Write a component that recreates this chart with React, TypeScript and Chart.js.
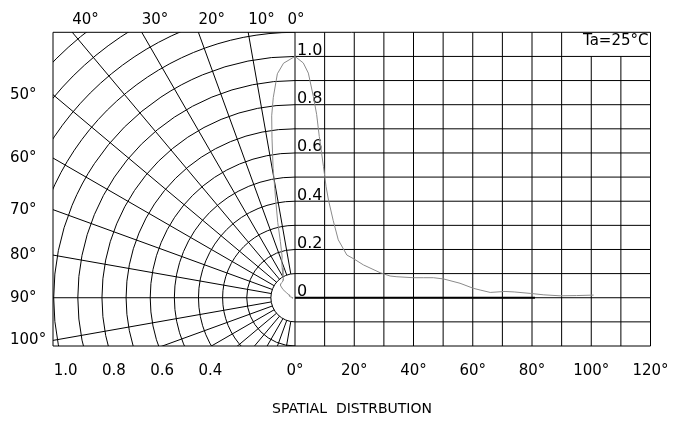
import React, { useEffect, useRef } from 'react';
import { Chart, registerables } from 'chart.js';

Chart.register(...registerables);

// ---- data ----
const angleDeg = [0, 2.8, 4.5, 6.2, 7.3, 8.2, 9.6, 10.5, 11.3, 12.9, 14.6, 17.5, 20, 23.1, 28.7, 32.1, 34.4, 40, 43.3, 46.7, 50.1, 55.7, 60.2, 62.5, 65.9, 70.9, 74, 79.4, 84, 89.5, 95, 100.8];
const intensity = [1.0, 0.973, 0.931, 0.834, 0.76, 0.668, 0.544, 0.46, 0.405, 0.32, 0.24, 0.177, 0.16, 0.136, 0.104, 0.09, 0.087, 0.083, 0.083, 0.083, 0.078, 0.06, 0.039, 0.032, 0.022, 0.026, 0.024, 0.018, 0.012, 0.008, 0.009, 0.011];
const baselineDeg = [0, 81];
const baselineVal = [0, 0];

const degTicks = [0, 20, 40, 60, 80, 100, 120];
const intensityTicks = [1.0, 0.8, 0.6, 0.4, 0.2, 0];
const radiusTicks = [1.0, 0.8, 0.6, 0.4];
const topAngleTicks = [0, 10, 20, 30, 40];
const leftAngleTicks = [50, 60, 70, 80, 90, 100];
const tempLabel = 'Ta=25°C';
const chartTitle = 'SPATIAL  DISTRBUTION';

// ---- layout ----
const W = 681;
const H = 421;
const AREA = { left: 53, top: 32.3, right: 650.5, bottom: 346 };
const ZERO_X = 295;
const Y_MIN = -0.2;
const Y_MAX = 1.1;
const X_MAX = 120;
const unitY = (AREA.bottom - AREA.top) / (Y_MAX - Y_MIN);
const XP_MIN = -(ZERO_X - AREA.left) / unitY;
const XP_MAX = (AREA.right - ZERO_X) / unitY;
const X_MIN = -X_MAX * (ZERO_X - AREA.left) / (AREA.right - ZERO_X);
const FONT = '"DejaVu Sans", "Liberation Sans", sans-serif';
const RAD = Math.PI / 180;

const gridPlugin = {
  id: 'spatialGrid',
  beforeDatasetsDraw(chart: any) {
    const { ctx, chartArea: a, scales } = chart;
    const xs = scales.x;
    const ys = scales.y;
    const cx = xs.getPixelForValue(0);
    const cy = ys.getPixelForValue(0);
    const unit = ys.getPixelForValue(0) - ys.getPixelForValue(1);
    ctx.save();
    ctx.strokeStyle = '#000';
    ctx.lineWidth = 1;

    // polar grid (left half)
    ctx.save();
    ctx.beginPath();
    ctx.rect(a.left, a.top, cx - a.left, a.bottom - a.top);
    ctx.clip();
    for (let k = 1; k <= 15; k++) {
      ctx.beginPath();
      ctx.arc(cx, cy, k * 0.1 * unit, 0, Math.PI * 2);
      ctx.stroke();
    }
    for (let d = 10; d <= 170; d += 10) {
      const sx = -Math.sin(d * RAD);
      const sy = -Math.cos(d * RAD);
      ctx.beginPath();
      ctx.moveTo(cx + sx * 0.1 * unit, cy + sy * 0.1 * unit);
      ctx.lineTo(cx + sx * 3 * unit, cy + sy * 3 * unit);
      ctx.stroke();
    }
    ctx.restore();

    // cartesian grid (right half)
    for (let d = 0; d <= 120; d += 10) {
      const px = xs.getPixelForValue(d);
      const top = d === 100 || d === 110 ? ys.getPixelForValue(1.0) : a.top;
      ctx.beginPath();
      ctx.moveTo(px, top);
      ctx.lineTo(px, a.bottom);
      ctx.stroke();
    }
    for (let k = -2; k <= 11; k++) {
      const py = ys.getPixelForValue(k / 10);
      const left = k === -2 || k === 11 ? a.left : cx;
      ctx.beginPath();
      ctx.moveTo(left, py);
      ctx.lineTo(a.right, py);
      ctx.stroke();
    }
    ctx.beginPath();
    ctx.moveTo(a.left, a.top);
    ctx.lineTo(a.left, a.bottom);
    ctx.stroke();

    // labels
    ctx.fillStyle = '#000';
    ctx.textBaseline = 'alphabetic';
    ctx.font = `16px ${FONT}`;
    ctx.textAlign = 'left';
    intensityTicks.forEach((v) => {
      const t = v === 0 ? '0' : v.toFixed(1);
      ctx.fillText(t, cx + 2, ys.getPixelForValue(v) - 1.5);
    });

    ctx.font = `15px ${FONT}`;
    // bottom degree labels
    ctx.textAlign = 'center';
    degTicks.forEach((d) => {
      ctx.fillText(`${d}°`, xs.getPixelForValue(d), 374.5);
    });
    // bottom radius labels
    ctx.textAlign = 'left';
    radiusTicks.forEach((r) => {
      ctx.fillText(r.toFixed(1), cx - r * unit, 374.5);
    });
    // top angle labels
    topAngleTicks.forEach((d) => {
      const px = cx - (cy - a.top) * Math.tan(d * RAD);
      if (d === 0) {
        ctx.textAlign = 'center';
        ctx.fillText(`${d}°`, px + 1, 23.5);
      } else {
        ctx.textAlign = 'left';
        ctx.fillText(`${d}°`, px, 23.5);
      }
    });
    // left angle labels
    ctx.textAlign = 'left';
    ctx.textBaseline = 'middle';
    leftAngleTicks.forEach((d) => {
      const py = cy - (cx - a.left) / Math.tan(d * RAD);
      ctx.fillText(`${d}°`, 10, py);
    });

    // temperature note
    ctx.textBaseline = 'alphabetic';
    ctx.textAlign = 'right';
    ctx.fillText(tempLabel, a.right - 2, 45);

    // title
    ctx.font = `14px ${FONT}`;
    ctx.textAlign = 'center';
    ctx.fillText(chartTitle, 352, 413);
    ctx.restore();
  },
};

export default function App() {
  const ref = useRef<HTMLCanvasElement | null>(null);

  useEffect(() => {
    if (!ref.current) return;
    const cartesian = angleDeg.map((a, i) => ({ x: a, y: intensity[i] }));
    const polar = angleDeg.map((a, i) => ({
      x: -intensity[i] * Math.sin(a * RAD),
      y: intensity[i] * Math.cos(a * RAD),
    }));
    const baseline = baselineDeg.map((a, i) => ({ x: a, y: baselineVal[i] }));

    const chart = new Chart(ref.current, {
      type: 'scatter',
      data: {
        datasets: [
          {
            data: baseline,
            xAxisID: 'x',
            yAxisID: 'y',
            showLine: true,
            borderColor: '#000',
            borderWidth: 2,
            pointRadius: 0,
          },
          {
            data: cartesian,
            xAxisID: 'x',
            yAxisID: 'y',
            showLine: true,
            borderColor: '#8a8a8a',
            borderWidth: 1,
            pointRadius: 0,
          },
          {
            data: polar,
            xAxisID: 'xp',
            yAxisID: 'y',
            showLine: true,
            borderColor: '#8a8a8a',
            borderWidth: 1,
            pointRadius: 0,
          },
        ],
      },
      options: {
        responsive: false,
        animation: false,
        layout: {
          padding: {
            left: AREA.left,
            top: AREA.top,
            right: W - AREA.right,
            bottom: H - AREA.bottom,
          },
        },
        plugins: {
          legend: { display: false },
          tooltip: { enabled: false },
          title: { display: false },
        },
        scales: {
          x: { type: 'linear', display: false, min: X_MIN, max: X_MAX },
          xp: { type: 'linear', display: false, min: XP_MIN, max: XP_MAX },
          y: { type: 'linear', display: false, min: Y_MIN, max: Y_MAX },
        },
      },
      plugins: [gridPlugin],
    } as any);
    return () => chart.destroy();
  }, []);

  return (
    <div style={{ position: 'absolute', left: 0, top: 0, width: W, height: H, background: '#fff' }}>
      <canvas ref={ref} width={W} height={H} style={{ width: W, height: H, display: 'block' }} />
    </div>
  );
}
